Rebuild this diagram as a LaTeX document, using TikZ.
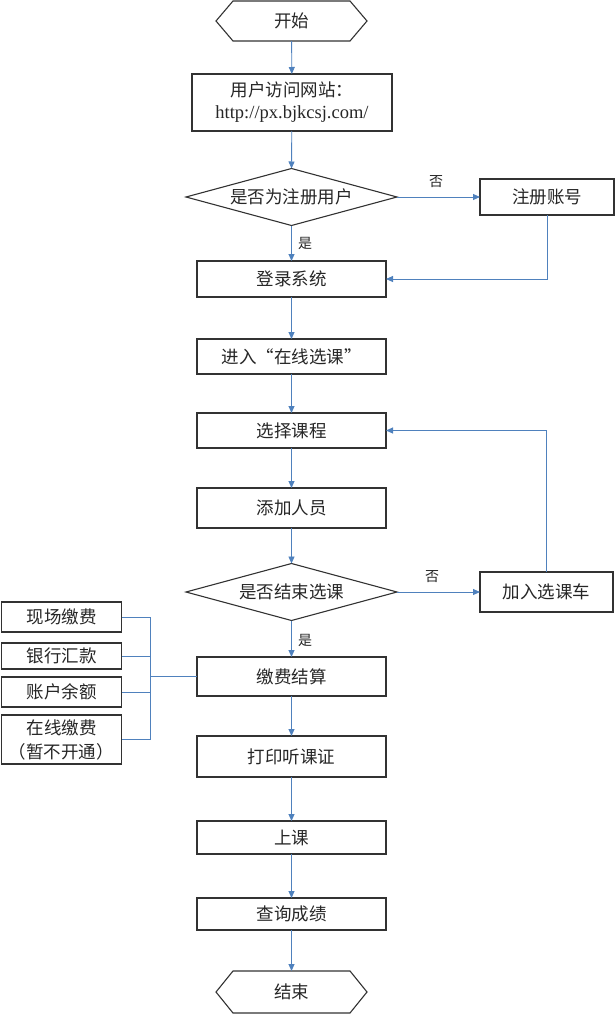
\documentclass[tikz,border=0pt]{standalone}
\usepackage{fontspec}
\setmainfont{Liberation Serif}
\newfontfamily\cjk{Noto Sans CJK SC}
\usetikzlibrary{arrows.meta,calc}
\definecolor{conn}{RGB}{79,129,189}
\definecolor{frame}{RGB}{50,50,50}
\begin{document}
\begin{tikzpicture}[x=1pt,y=-1pt,
  every node/.style={inner sep=0pt,outer sep=0pt,text=black!85},
  box/.style={draw=frame,line width=1.1pt,minimum width=189pt,font=\cjk\fontsize{17.5}{21}\selectfont,align=center},
  sbox/.style={draw=frame,line width=1.1pt,minimum width=120pt,font=\cjk\fontsize{17.5}{24}\selectfont,align=center},
  hexa/.style={minimum width=151pt,font=\cjk\fontsize{17.5}{21}\selectfont},
  dia/.style={minimum width=211pt,minimum height=57pt,font=\cjk\fontsize{17.5}{21}\selectfont},
  lab/.style={font=\cjk\fontsize{14}{16}\selectfont},
  arr/.style={draw=conn,line width=0.9pt,-{Triangle[width=6pt,length=7pt]}},
  ln/.style={draw=conn,line width=0.9pt},
  shapeline/.style={draw=frame,line width=1.1pt}
]
\useasboundingbox (0,0) rectangle (615,1014);
% start / end hexagons
\node[hexa,minimum height=40pt] (start) at (291.5,21) {开始};
\draw[shapeline] ([xshift=17pt]start.north west) -- ([xshift=-17pt]start.north east) -- (start.east) -- ([xshift=-17pt]start.south east) -- ([xshift=17pt]start.south west) -- (start.west) -- cycle;
\node[hexa,minimum height=42pt] (end) at (291.5,992) {结束};
\draw[shapeline] ([xshift=17pt]end.north west) -- ([xshift=-17pt]end.north east) -- (end.east) -- ([xshift=-17pt]end.south east) -- ([xshift=17pt]end.south west) -- (end.west) -- cycle;
% main boxes
\node[box,minimum width=200pt,minimum height=57pt] (url) at (292,102.5) {用户访问网站：\\[1pt]{\fontsize{18.5}{21}\selectfont\rmfamily http://px.bjkcsj.com/}};
\node[dia] (d1) at (291.5,197) {是否为注册用户};
\draw[shapeline] (d1.north) -- (d1.east) -- (d1.south) -- (d1.west) -- cycle;
\node[box,minimum width=134pt,minimum height=36pt] (reg) at (547,197) {注册账号};
\node[box,minimum height=36pt] (login) at (291.5,279) {登录系统};
\node[box,minimum height=35pt] (enter) at (291.5,356.5) {进入“在线选课”};
\node[box,minimum height=35pt] (select) at (291.5,430.5) {选择课程};
\node[box,minimum height=40pt] (add) at (291.5,508) {添加人员};
\node[dia] (d2) at (291.5,592) {是否结束选课};
\draw[shapeline] (d2.north) -- (d2.east) -- (d2.south) -- (d2.west) -- cycle;
\node[box,minimum width=133pt,minimum height=40pt] (cart) at (546.5,592) {加入选课车};
\node[box,minimum height=39pt] (pay) at (291.5,676.5) {缴费结算};
\node[box,minimum height=41pt] (print) at (291.5,756.5) {打印听课证};
\node[box,minimum height=33pt] (class) at (291.5,837.5) {上课};
\node[box,minimum height=32pt] (query) at (291.5,914) {查询成绩};
% payment options
\node[sbox,minimum height=30pt] (f1) at (61.5,617) {现场缴费};
\node[sbox,minimum height=26pt] (f2) at (61.5,656) {银行汇款};
\node[sbox,minimum height=30pt] (f3) at (61.5,692) {账户余额};
\node[sbox,minimum height=49pt] (f4) at (61.5,739.5) {在线缴费\\（暂不开通）};
% connectors
\draw[arr] (start) -- (url);
\draw[arr] (url) -- (d1.north);
\draw[arr] (d1.east) -- (reg.west);
\draw[arr] (d1.south) -- (login);
\draw[arr] (reg.south) |- (login.east);
\draw[arr] (login) -- (enter);
\draw[arr] (enter) -- (select);
\draw[arr] (select) -- (add);
\draw[arr] (add) -- (d2.north);
\draw[arr] (d2.east) -- (cart.west);
\draw[arr] (cart.north) |- (select.east);
\draw[arr] (d2.south) -- (pay);
\draw[arr] (pay) -- (print);
\draw[arr] (print) -- (class);
\draw[arr] (class) -- (query);
\draw[arr] (query) -- (end);
% bracket
\coordinate (bx) at (150,676.5);
\draw[ln] (f1.east) -- (f1.east -| bx) -- (f4.east -| bx) -- (f4.east);
\draw[ln] (f2.east) -- (f2.east -| bx);
\draw[ln] (f3.east) -- (f3.east -| bx);
\draw[draw=conn,line width=1.5pt] (bx) -- (pay.west);
% labels
\node[lab] (no1) at (436,182) {否};
\node[lab] (yes1) at (305,243) {是};
\node[lab] (no2) at (432,577) {否};
\node[lab] (yes2) at (305,640) {是};
\end{tikzpicture}
\end{document}
